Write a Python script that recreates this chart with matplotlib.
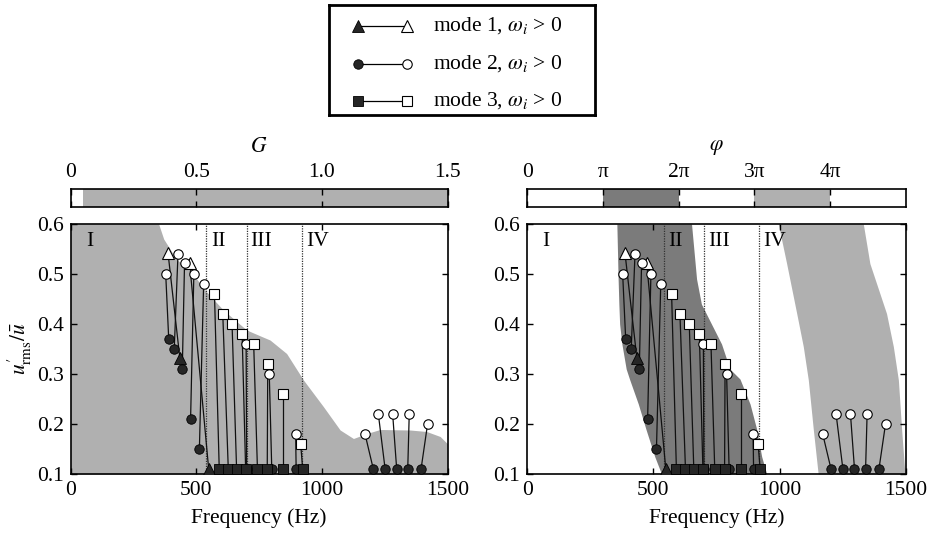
import numpy as np
import matplotlib
matplotlib.use("Agg")
import matplotlib.pyplot as plt

plt.rcParams['font.family'] = ['Liberation Serif', 'DejaVu Serif']
plt.rcParams['mathtext.fontset'] = 'stix'
plt.rcParams['font.size'] = 15.5

# mode trajectories: filled marker = start, open marker = end (omega_i > 0)
mode1_fx = [434, 549]
mode1_fy = [0.333, 0.11]
mode1_ox = [387, 473]
mode1_oy = [0.543, 0.523]

mode2_fx = [390, 412, 444, 477, 512, 700, 800, 897, 1204, 1251, 1297, 1341, 1394]
mode2_fy = [0.37, 0.35, 0.31, 0.21, 0.15, 0.11, 0.11, 0.11, 0.11, 0.11, 0.11, 0.11, 0.11]
mode2_ox = [378, 427, 453, 490, 529, 698, 790, 895, 1171, 1224, 1281, 1347, 1420]
mode2_oy = [0.50, 0.541, 0.523, 0.50, 0.481, 0.36, 0.30, 0.18, 0.18, 0.22, 0.22, 0.22, 0.20]

mode3_fx = [591, 627, 660, 696, 743, 782, 846, 923]
mode3_fy = [0.11, 0.11, 0.11, 0.11, 0.11, 0.11, 0.11, 0.11]
mode3_ox = [572, 605, 642, 682, 728, 784, 846, 915]
mode3_oy = [0.461, 0.421, 0.40, 0.381, 0.361, 0.32, 0.26, 0.16]

# gain contour G = 0.05 (region below is shaded)
g_edge_f = [0, 350, 370, 420, 487, 534, 607, 700, 760, 793, 859, 926, 1005,
            1072, 1125, 1178, 1231, 1350, 1416, 1470, 1500]
g_edge_u = [0.6, 0.6, 0.57, 0.53, 0.50, 0.468, 0.428, 0.388, 0.375, 0.368,
            0.341, 0.288, 0.235, 0.188, 0.171, 0.181, 0.189, 0.188, 0.185,
            0.175, 0.16]

# phase bands pi..2pi and 3pi..4pi
phi_u = [0.6, 0.49, 0.44, 0.40, 0.36, 0.31, 0.29, 0.24, 0.19, 0.135, 0.1]
band1_lo = [355, 360, 363, 366, 375, 392, 405, 440, 470, 505, 532]
band1_hi = [651, 671, 690, 730, 770, 803, 843, 883, 909, 929, 949]
band2_u = [0.6, 0.521, 0.421, 0.355, 0.288, 0.188, 0.1]
band2_lo = [995, 1028, 1068, 1094, 1114, 1134, 1153]
band2_hi = [1332, 1358, 1424, 1451, 1471, 1484, 1497]

regions = ['I', 'II', 'III', 'IV']
region_f = [60, 557, 716, 936]
region_lines = [540, 700, 920]

g_range = [0.05, 1.5]
phi_bands = [(np.pi, 2 * np.pi, '#7b7b7b'), (3 * np.pi, 4 * np.pi, '#b0b0b0')]

LIGHT = '#b0b0b0'
DARK = '#7b7b7b'
FILL = '#262626'

W, H = 927, 537
fig = plt.figure(figsize=(W / 100, H / 100), dpi=100)


def box(x0, y0, x1, y1):
    return [x0 / W, 1 - y1 / H, (x1 - x0) / W, (y1 - y0) / H]


def draw_modes(ax):
    for fx, fy, ox, oy, mk, ms in [
        (mode1_fx, mode1_fy, mode1_ox, mode1_oy, '^', 8),
        (mode2_fx, mode2_fy, mode2_ox, mode2_oy, 'o', 6.8),
        (mode3_fx, mode3_fy, mode3_ox, mode3_oy, 's', 6.8),
    ]:
        for a, b, c, d in zip(fx, fy, ox, oy):
            ax.plot([a, c], [b, d], color='#111111', lw=0.9, zorder=2)
        ax.plot(fx, fy, mk, ms=ms, mfc=FILL, mec='black', mew=0.6, ls='none', zorder=3)
        ax.plot(ox, oy, mk, ms=ms, mfc='white', mec='black', mew=0.8, ls='none', zorder=4)


def style_main(ax):
    ax.set_xlim(0, 1500)
    ax.set_ylim(0.1, 0.6)
    ax.set_xticks([0, 500, 1000, 1500])
    ax.set_yticks([0.1, 0.2, 0.3, 0.4, 0.5, 0.6])
    ax.set_yticklabels(['0.1', '0.2', '0.3', '0.4', '0.5', '0.6'])
    ax.tick_params(direction='in', top=True, right=True, length=4, width=1, pad=5)
    for s in ax.spines.values():
        s.set_linewidth(1.2)
    ax.set_xlabel('Frequency (Hz)', labelpad=6)
    for xl in region_lines:
        ax.axvline(xl, color='#333333', lw=0.9, ls=(0, (1, 1)), zorder=1.5)
    for name, f in zip(regions, region_f):
        ax.text(f, 0.566, name, ha='left', va='center', zorder=5)


# left panel: gain
axL = fig.add_axes(box(70.7, 224, 447.7, 474))
axL.fill_between(g_edge_f, 0.1, g_edge_u, color=LIGHT, lw=0, zorder=1)
draw_modes(axL)
style_main(axL)
axL.set_ylabel(r"$u^{\prime}_{\mathrm{rms}}/\bar{u}$", labelpad=2)

# right panel: phase
axR = fig.add_axes(box(527.3, 224, 905.7, 474))
axR.fill_betweenx(phi_u, band1_lo, band1_hi, color=DARK, lw=0, zorder=1)
axR.fill_betweenx(band2_u, band2_lo, band2_hi, color=LIGHT, lw=0, zorder=1)
draw_modes(axR)
style_main(axR)

# colour keys
cbL = fig.add_axes(box(70.7, 189, 447.7, 207))
cbL.axvspan(g_range[0], g_range[1], color=LIGHT, lw=0)
cbL.set_xlim(0, 1.5)
cbL.set_ylim(0, 1)
cbL.set_yticks([])
cbL.set_xticks([0, 0.5, 1.0, 1.5])
cbL.set_xticklabels(['0', '0.5', '1.0', '1.5'])

cbR = fig.add_axes(box(527.3, 189, 905.7, 207))
for lo, hi, c in phi_bands:
    cbR.axvspan(lo, hi, color=c, lw=0)
cbR.set_xlim(0, 5 * np.pi)
cbR.set_ylim(0, 1)
cbR.set_yticks([])
cbR.set_xticks([0, np.pi, 2 * np.pi, 3 * np.pi, 4 * np.pi])
cbR.set_xticklabels(['0', 'π', '2π', '3π', '4π'])

for cb in (cbL, cbR):
    cb.tick_params(axis='x', direction='in', top=True, bottom=True,
                   labeltop=True, labelbottom=False, length=4, width=1, pad=5)
    for s in cb.spines.values():
        s.set_linewidth(1.2)

fig.text(259 / W, 1 - 148 / H, '$G$', ha='center', va='center')
fig.text(716 / W, 1 - 148 / H, r'$\varphi$', ha='center', va='center')

# legend box
axLeg = fig.add_axes(box(329, 5, 595, 115))
axLeg.set_xlim(329, 595)
axLeg.set_ylim(115, 5)
axLeg.set_xticks([])
axLeg.set_yticks([])
for s in axLeg.spines.values():
    s.set_linewidth(2.0)
for i, (mk, ms) in enumerate([('^', 8), ('o', 6.8), ('s', 6.8)]):
    yy = 26 + 37.5 * i
    axLeg.plot([358, 407], [yy, yy], color='black', lw=0.9)
    axLeg.plot([358], [yy], mk, ms=ms, mfc=FILL, mec='black', mew=0.6)
    axLeg.plot([407], [yy], mk, ms=ms, mfc='white', mec='black', mew=0.8)
    axLeg.text(433, yy, r'mode %d, $\omega_i$ > 0' % (i + 1), ha='left', va='center')

fig.savefig('out.png', dpi=100)
